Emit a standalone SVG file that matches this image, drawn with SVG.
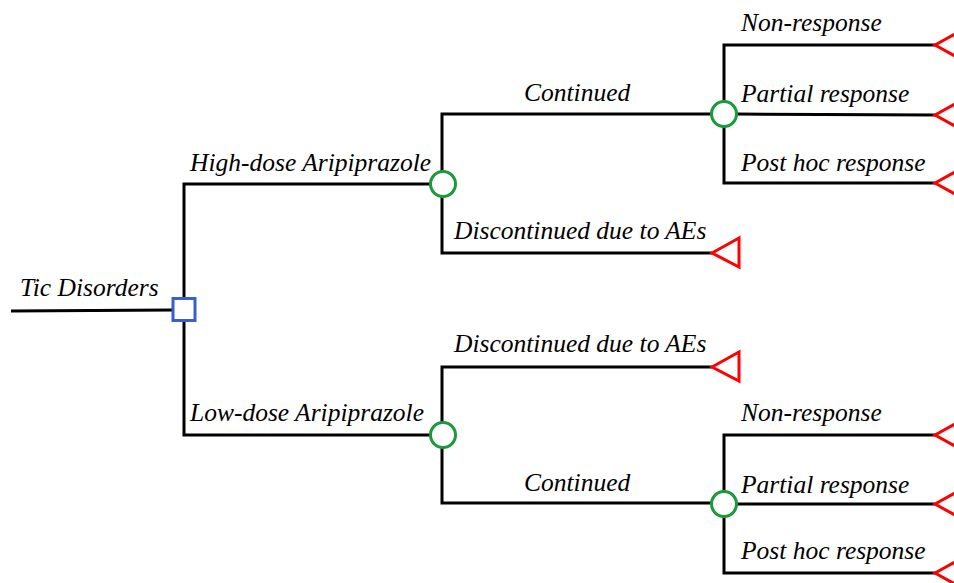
<svg xmlns="http://www.w3.org/2000/svg" width="954" height="583" viewBox="0 0 954 583">
<style>
.ln{fill:none;stroke:#000;stroke-width:3}
.chance{fill:#fff;stroke:#1a9a3a;stroke-width:3}
.term{fill:#fff;stroke:#ff0000;stroke-width:3}
.dec{fill:#fff;stroke:#3a5fcd;stroke-width:3}
.t{font-family:'Liberation Serif','DejaVu Serif',serif;font-style:italic;font-size:25.5px;fill:#000}
</style>
<rect width="954" height="583" fill="#fff"/>
<g id="connectors">
<path class="ln" d="M11,311 L173,310"/>
<path class="ln" d="M184,298 L184,184 L431,184"/>
<path class="ln" d="M184,321 L184,435 L431,435"/>
<path class="ln" d="M442,171 L442,114 L712,114"/>
<path class="ln" d="M442,197 L442,253 L712,253"/>
<path class="ln" d="M442,422 L442,367 L712,367"/>
<path class="ln" d="M442,448 L442,503 L712,503"/>
<path class="ln" d="M724,101 L724,45 L935,45"/>
<path class="ln" d="M737,114 L935,115"/>
<path class="ln" d="M724,127 L724,183 L935,183"/>
<path class="ln" d="M724,491 L724,435 L935,435"/>
<path class="ln" d="M737,504 L935,504"/>
<path class="ln" d="M724,517 L724,573 L935,573"/>
</g>
<g id="root"><rect class="dec" x="173" y="298.5" width="22" height="22"/><text class="t" x="20" y="296">Tic Disorders</text></g>
<g id="high"><circle class="chance" cx="443" cy="184" r="12.5"/><text class="t" x="190" y="171">High-dose Aripiprazole</text></g>
<g id="low"><circle class="chance" cx="443" cy="435" r="12.5"/><text class="t" x="190" y="421">Low-dose Aripiprazole</text></g>
<g id="high-cont"><circle class="chance" cx="724" cy="114" r="12.5"/><text class="t" x="524" y="101">Continued</text></g>
<g id="high-disc"><polygon class="term" points="712,253 739,238 739,267"/><text class="t" x="454" y="239">Discontinued due to AEs</text></g>
<g id="low-disc"><polygon class="term" points="712,367 739,352 739,381"/><text class="t" x="454" y="352">Discontinued due to AEs</text></g>
<g id="low-cont"><circle class="chance" cx="724" cy="504" r="12.5"/><text class="t" x="524" y="491">Continued</text></g>
<g id="h-non"><polygon class="term" points="935,45 962,30 962,60"/><text class="t" x="741" y="31">Non-response</text></g>
<g id="h-part"><polygon class="term" points="935,115 962,100 962,130"/><text class="t" x="741" y="102">Partial response</text></g>
<g id="h-post"><polygon class="term" points="935,183 962,168 962,198"/><text class="t" x="741" y="171">Post hoc response</text></g>
<g id="l-non"><polygon class="term" points="935,435 962,420 962,450"/><text class="t" x="741" y="421">Non-response</text></g>
<g id="l-part"><polygon class="term" points="935,504 962,489 962,519"/><text class="t" x="741" y="493">Partial response</text></g>
<g id="l-post"><polygon class="term" points="935,573 962,558 962,588"/><text class="t" x="741" y="559">Post hoc response</text></g>
</svg>
